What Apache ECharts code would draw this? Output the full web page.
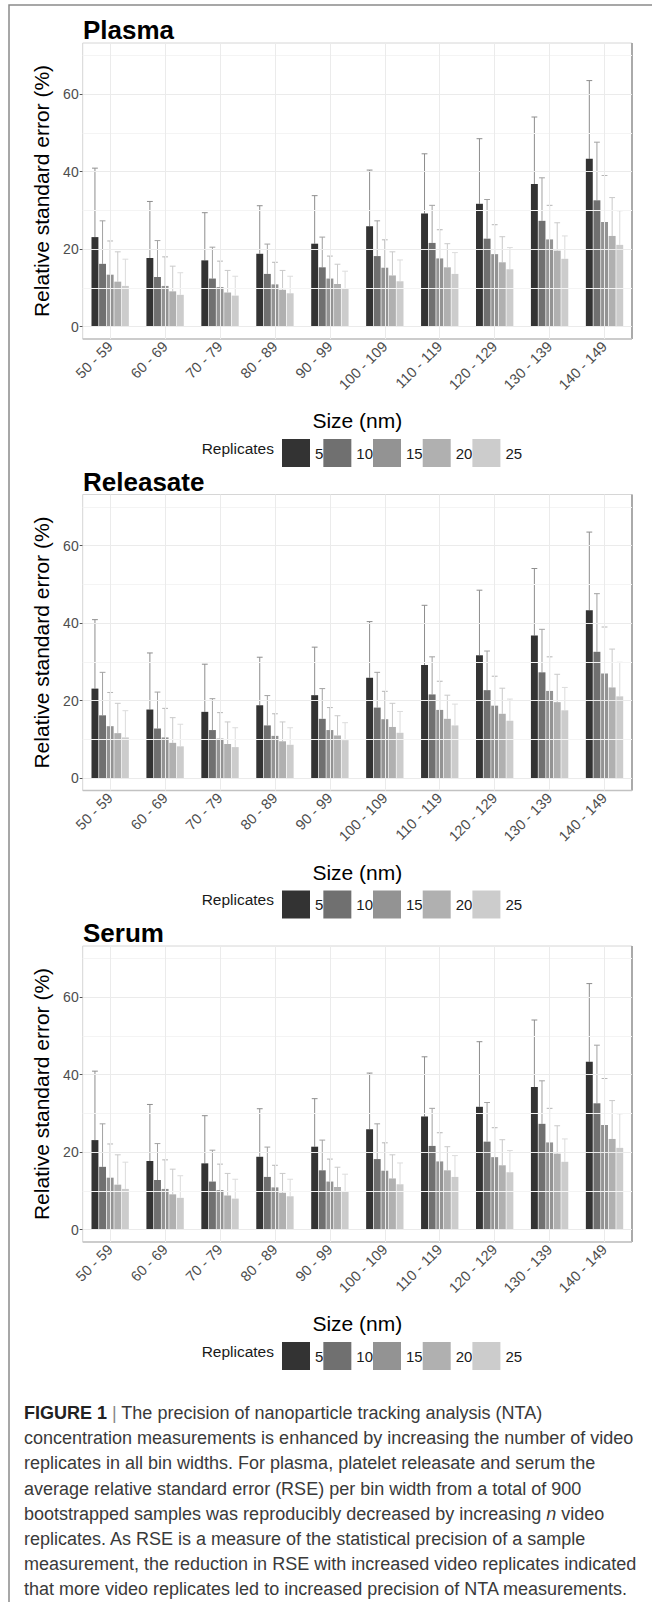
<!DOCTYPE html>
<html>
<head>
<meta charset="utf-8">
<script src="https://cdn.jsdelivr.net/npm/echarts@6/dist/echarts.min.js"></script>
<style>
html,body{margin:0;padding:0;background:#fff;}
#chart{width:652px;height:1602px;}
</style>
</head>
<body>
<div id="chart"></div>
<script>
// ---- data ----
const categories = ['50 - 59','60 - 69','70 - 79','80 - 89','90 - 99','100 - 109','110 - 119','120 - 129','130 - 139','140 - 149'];
const replicates = ['5','10','15','20','25'];
const panelTitles = ['Plasma','Releasate','Serum'];
const yTicks = [0,20,40,60];
const yMinorTicks = [10,30,50,70];

const mean5  = [23.1,17.7,17.1,18.8,21.4,25.9,29.2,31.7,36.8,43.3];
const upper5 = [40.9,32.3,29.4,31.2,33.8,40.4,44.6,48.5,54.1,63.5];
const mean10  = [16.2,12.8,12.4,13.6,15.3,18.2,21.6,22.7,27.3,32.6];
const upper10 = [27.3,22.2,20.5,21.3,23.1,27.3,31.3,32.8,38.4,47.6];
const mean15  = [13.4,10.5,10.2,10.9,12.4,15.2,17.6,18.7,22.5,27.0];
const upper15 = [22.1,18.0,16.9,16.6,18.2,22.4,25.0,26.3,31.3,39.0];
const mean20  = [11.6,9.1,8.8,9.5,11.0,13.2,15.3,16.6,19.6,23.4];
const upper20 = [19.3,15.6,14.5,14.5,16.1,19.3,21.4,23.2,26.8,33.3];
const mean25  = [10.5,8.2,8.0,8.6,9.8,11.7,13.6,14.8,17.5,21.1];
const upper25 = [17.4,13.9,13.0,13.0,14.3,17.2,19.1,20.4,23.4,29.9];

const means = [mean5, mean10, mean15, mean20, mean25];
const uppers = [upper5, upper10, upper15, upper20, upper25];

const captionLines = [
  '{b|FIGURE 1} {p||} The precision of nanoparticle tracking analysis (NTA)',
  'concentration measurements is enhanced by increasing the number of video',
  'replicates in all bin widths. For plasma, platelet releasate and serum the',
  'average relative standard error (RSE) per bin width from a total of 900',
  'bootstrapped samples was reproducibly decreased by increasing {i|n} video',
  'replicates. As RSE is a measure of the statistical precision of a sample',
  'measurement, the reduction in RSE with increased video replicates indicated',
  'that more video replicates led to increased precision of NTA measurements.'
];

// ---- styles / layout ----
const fillColors = ['#333333','#707070','#939393','#b0b0b0','#cccccc'];
const errColors  = ['#8e8e8e','#a2a2a2','#b6b6b6','#c9c9c9','#dcdcdc'];
const GRID_LEFT = 82.7, GRID_RIGHT_X = 632, GRID_H = 296, PANEL_STEP = 451.5, FIRST_TOP = 43;
const CAT_GAP = 0.32, BAR_GAP = 0.1;
const FONT = '"Liberation Sans", Arial, sans-serif';
const CAP_FS = 18;

const chart = echarts.init(document.getElementById('chart'), null, {renderer:'svg'});

const grids = [], xAxes = [], yAxes = [], series = [], legends = [], graphics = [];

panelTitles.forEach((title, p) => {
  const top = FIRST_TOP + p * PANEL_STEP;
  grids.push({left: GRID_LEFT, top: top, width: GRID_RIGHT_X - GRID_LEFT, height: GRID_H,
              show: true, borderColor: '#d6d6d6', borderWidth: 1, backgroundColor: '#fff'});
  xAxes.push({
    type: 'category', gridIndex: p, data: categories,
    name: 'Size (nm)', nameLocation: 'middle', nameGap: 71,
    nameTextStyle: {fontSize: 21, color: '#000', fontFamily: FONT},
    axisLine: {show: false},
    axisTick: {show: true, alignWithLabel: true, length: 3, lineStyle: {color: '#555'}},
    axisLabel: {rotate: 45, interval: 0, fontSize: 14.5, color: '#4d4d4d', margin: 5, fontFamily: FONT},
    splitLine: {show: false}
  });
  yAxes.push({
    type: 'value', gridIndex: p, min: -3.2, max: 73.2, splitNumber: 4,
    name: 'Relative standard error (%)', nameLocation: 'middle', nameGap: 26,
    nameTextStyle: {fontSize: 21, color: '#000', fontFamily: FONT},
    axisLine: {show: false},
    axisTick: {show: true, length: 3, lineStyle: {color: '#555'}, customValues: yTicks},
    axisLabel: {fontSize: 14, color: '#4d4d4d', margin: 4, fontFamily: FONT, customValues: yTicks},
    splitLine: {show: false}, minorSplitLine: {show: false}
  });
  // gridlines helper
  const gridData = [];
  yMinorTicks.forEach(v => gridData.push({yAxis: v, lineStyle: {color: '#f4f4f4'}}));
  yTicks.forEach(v => gridData.push({yAxis: v, lineStyle: {color: '#ebebeb'}}));
  categories.forEach(c => gridData.push({xAxis: c, lineStyle: {color: '#ebebeb'}}));
  series.push({
    type: 'line', xAxisIndex: p, yAxisIndex: p, data: [], z: 1, silent: true,
    markLine: {silent: true, symbol: 'none', animation: false, label: {show: false},
               lineStyle: {type: 'solid', width: 1}, data: gridData}
  });
  replicates.forEach((r, k) => {
    series.push({
      type: 'custom', xAxisIndex: p, yAxisIndex: p, z: 2, silent: true,
      data: categories.map((c, j) => [j, means[k][j], uppers[k][j]]),
      encode: {x: 0, y: [1, 2]},
      renderItem: function (params, api) {
        const j = api.value(0);
        const topPt = api.coord([j, api.value(2)]);
        const basePt = api.coord([j, api.value(1)]);
        const band = api.size([1, 0])[0];
        const total = band * (1 - CAT_GAP);
        const w = total / (5 + 4 * BAR_GAP);
        const cx = topPt[0] - total / 2 + k * w * (1 + BAR_GAP) + w / 2;
        const half = w * 0.42;
        const st = {stroke: errColors[k], lineWidth: 1};
        return {type: 'group', children: [
          {type: 'line', shape: {x1: cx, y1: basePt[1], x2: cx, y2: topPt[1]}, style: st},
          {type: 'line', shape: {x1: cx - half, y1: topPt[1], x2: cx + half, y2: topPt[1]}, style: st}
        ]};
      }
    });
  });
  replicates.forEach((r, k) => {
    series.push({
      type: 'bar', name: r, xAxisIndex: p, yAxisIndex: p, z: 3,
      data: means[k], barGap: (BAR_GAP * 100) + '%', barCategoryGap: (CAT_GAP * 100) + '%',
      itemStyle: {color: fillColors[k]}, silent: true
    });
  });
  const legendCy = 448 + p * PANEL_STEP;
  legends.push({
    data: replicates, left: 277, top: legendCy - 14, orient: 'horizontal',
    itemWidth: 28, itemHeight: 28, itemGap: 0, icon: 'rect', selectedMode: false,
    textStyle: {fontSize: 15, color: '#1a1a1a', fontFamily: FONT}
  });
  graphics.push({type: 'text', x: 274, y: legendCy, silent: true,
    style: {text: 'Replicates', fontSize: 15.5, fill: '#1a1a1a', fontFamily: FONT, align: 'right', verticalAlign: 'middle'}});
  graphics.push({type: 'text', x: 83, y: 30 + p * PANEL_STEP, silent: true,
    style: {text: title, fontSize: 26, fontWeight: 'bold', fill: '#000', fontFamily: FONT, align: 'left', verticalAlign: 'middle'}});
  // panel shadow edges
  graphics.push({type: 'line', silent: true, shape: {x1: GRID_RIGHT_X, y1: top, x2: GRID_RIGHT_X, y2: top + GRID_H},
    style: {stroke: '#aaaaaa', lineWidth: 2}});
  graphics.push({type: 'line', silent: true, shape: {x1: GRID_LEFT, y1: top + GRID_H, x2: GRID_RIGHT_X, y2: top + GRID_H},
    style: {stroke: '#c2c2c2', lineWidth: 1.5}});
});

// outer frame
graphics.push({type: 'polyline', silent: true, shape: {points: [[9, 1602], [9, 5], [652, 5]]},
  style: {stroke: '#8a8a8a', lineWidth: 1.5, fill: null}});

// caption
captionLines.forEach((line, i) => {
  graphics.push({type: 'text', x: 24, y: 1413 + i * 25.2, silent: true,
    style: {text: line, fontSize: CAP_FS, fill: '#3a3a3a', fontFamily: FONT, align: 'left', verticalAlign: 'middle',
      rich: {b: {fontWeight: 'bold', fontSize: CAP_FS, fill: '#222', fontFamily: FONT},
             p: {fontSize: CAP_FS, fill: '#888', fontFamily: FONT},
             i: {fontStyle: 'italic', fontSize: CAP_FS, fill: '#3a3a3a', fontFamily: FONT}}}});
});

chart.setOption({
  animation: false,
  grid: grids, xAxis: xAxes, yAxis: yAxes, series: series, legend: legends,
  graphic: {elements: graphics}
});
</script>
</body>
</html>
